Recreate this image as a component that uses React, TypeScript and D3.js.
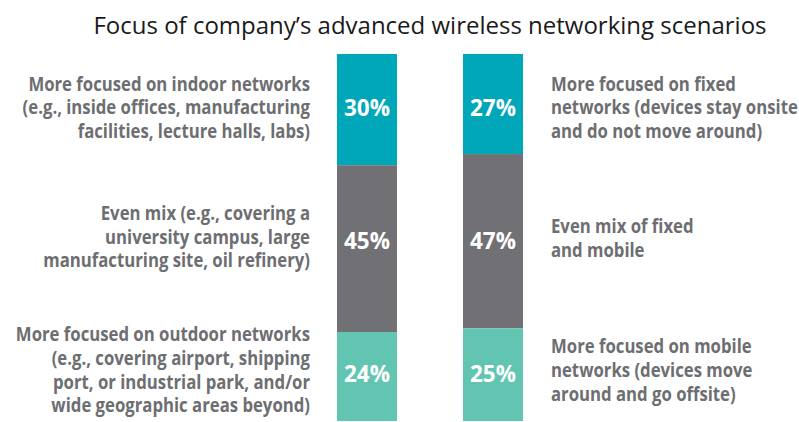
import React, { useRef, useEffect } from 'react';
import * as d3 from 'd3';

const title = "Focus of company\u2019s advanced wireless networking scenarios";

const segments = ["top", "middle", "bottom"];
const leftValues = [30, 45, 24];
const rightValues = [27, 47, 25];
const colors = ["#00a7b8", "#717075", "#62c5b1"];

const leftLabels = [
  ["More focused on indoor networks", "(e.g., inside offices, manufacturing", "facilities, lecture halls, labs)"],
  ["Even mix (e.g., covering a", "university campus, large", "manufacturing site, oil refinery)"],
  ["More focused on outdoor networks", "(e.g., covering airport, shipping", "port, or industrial park, and/or", "wide geographic areas beyond)"],
];
const rightLabels = [
  ["More focused on fixed", "networks (devices stay onsite", "and do not move around)"],
  ["Even mix of fixed", "and mobile"],
  ["More focused on mobile", "networks (devices move", "around and go offsite)"],
];

// layout: first baseline of each label block, and vertical centre of the % labels per row
const leftLabelTops = [90.7, 220, 341.5];
const rightLabelTops = [90.7, 233.5, 353.5];
const pctRowCentres = [108, 241, 373.5];

const App = () => {
  const svgRef = useRef<SVGSVGElement>(null);

  useEffect(() => {
    const width = 799;
    const height = 422;
    const top = 54;
    const bottom = 421;
    const lineH = 23.6;
    const squeeze = 0.895;

    const svg = d3.select(svgRef.current);
    svg.selectAll("*").remove();
    svg.attr("width", width).attr("height", height);

    svg.append("text")
      .attr("x", 430)
      .attr("y", 34)
      .attr("text-anchor", "middle")
      .style("font-family", "'Open Sans', sans-serif")
      .style("font-size", "24px")
      .style("fill", "#1a1a1a")
      .text(title);

    const x = d3.scaleBand()
      .domain(["left", "right"])
      .range([337, 523])
      .paddingInner(66 / 126);

    const bars = [
      { key: "left", values: leftValues, labels: leftLabels, tops: leftLabelTops, side: "left" },
      { key: "right", values: rightValues, labels: rightLabels, tops: rightLabelTops, side: "right" },
    ];

    bars.forEach(bar => {
      const total = d3.sum(bar.values);
      const y = d3.scaleLinear().domain([0, total]).range([top, bottom]);
      const stacked = bar.values.map((v, i) => {
        const start = d3.sum(bar.values.slice(0, i));
        return { seg: segments[i], v, y0: start, y1: start + v, i };
      });
      const g = svg.append("g");
      g.selectAll("rect")
        .data(stacked)
        .join("rect")
        .attr("x", x(bar.key)!)
        .attr("width", x.bandwidth())
        .attr("y", d => y(d.y0))
        .attr("height", d => y(d.y1) - y(d.y0))
        .attr("fill", d => colors[d.i]);

      g.selectAll("text.pct")
        .data(stacked)
        .join("text")
        .attr("class", "pct")
        .attr("x", x(bar.key)! + x.bandwidth() / 2)
        .attr("y", d => pctRowCentres[d.i] + 8)
        .attr("text-anchor", "middle")
        .style("font-family", "'Open Sans', sans-serif")
        .style("font-weight", "bold")
        .style("font-size", "22.5px")
        .style("fill", "#ffffff")
        .text(d => d.v + "%");

      // category labels beside each bar
      stacked.forEach(d => {
        const lines = bar.labels[d.i];
        const firstBase = bar.tops[d.i];
        const ax = bar.side === "left" ? 310 : 551;
        const lg = svg.append("g")
          .attr("transform", `translate(${ax},0) scale(${squeeze},1)`);
        lg.selectAll("text")
          .data(lines)
          .join("text")
          .attr("x", 0)
          .attr("y", (t, k) => firstBase + k * lineH)
          .attr("text-anchor", bar.side === "left" ? "end" : "start")
          .style("font-family", "'Open Sans', sans-serif")
          .style("font-weight", "bold")
          .style("font-size", "18.7px")
          .style("fill", "#6d6e71")
          .text(t => t);
      });
    });
  }, []);

  return (
    <div style={{ position: "absolute", left: 0, top: 0 }}>
      <svg ref={svgRef} style={{ display: "block" }}></svg>
    </div>
  );
};

export default App;
